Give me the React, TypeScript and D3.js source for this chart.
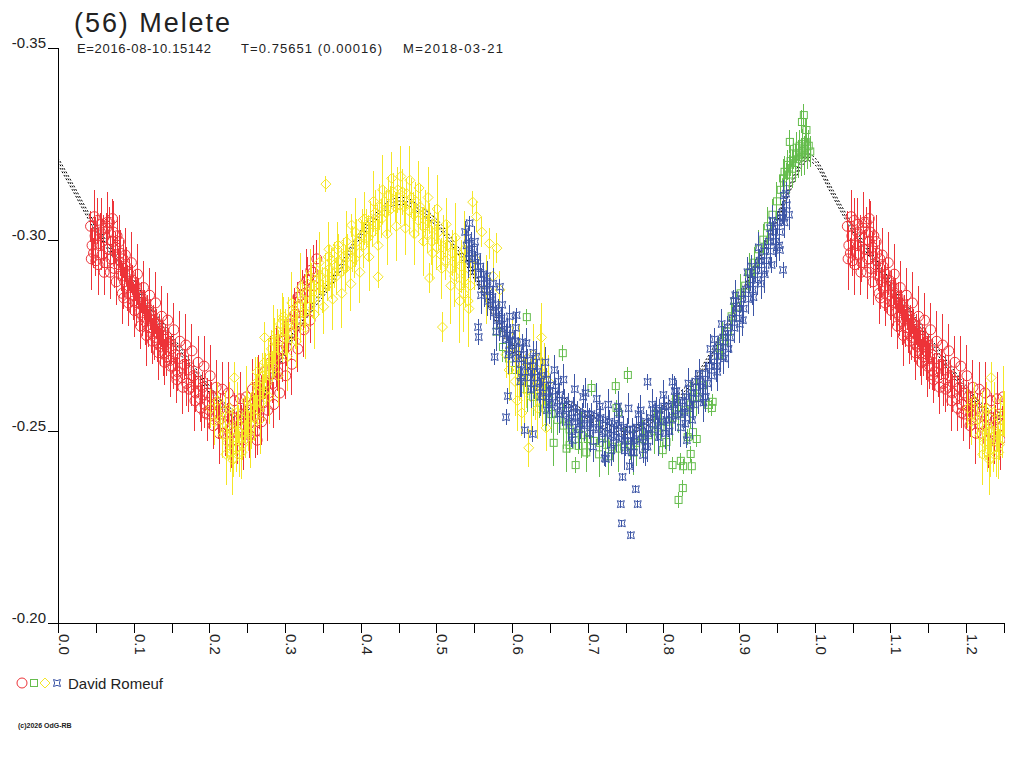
import React from 'react'
import * as d3 from 'd3'

type Obs = [number, number, number] // phase, magnitude, error

// Fitted model (centre line)
const modelCurve: Array<[number, number]> = [
  [0.00, -0.3205], [0.02, -0.3135], [0.04, -0.3063], [0.06, -0.3000], [0.08, -0.2942],
  [0.10, -0.2885], [0.12, -0.2825], [0.14, -0.2770], [0.16, -0.2715], [0.18, -0.2660],
  [0.20, -0.2610], [0.22, -0.2565], [0.24, -0.2540], [0.26, -0.2560], [0.28, -0.2630],
  [0.30, -0.2710], [0.32, -0.2780], [0.34, -0.2835], [0.36, -0.2885], [0.38, -0.2950],
  [0.40, -0.3015], [0.42, -0.3060], [0.44, -0.3095], [0.46, -0.3100], [0.48, -0.3075],
  [0.50, -0.3045], [0.52, -0.2995], [0.54, -0.2940], [0.56, -0.2870], [0.58, -0.2790],
  [0.60, -0.2720], [0.62, -0.2670], [0.64, -0.2620], [0.66, -0.2590], [0.68, -0.2565],
  [0.70, -0.2540], [0.72, -0.2515], [0.74, -0.2500], [0.76, -0.2505], [0.78, -0.2525],
  [0.80, -0.2560], [0.82, -0.2590], [0.84, -0.2630], [0.86, -0.2690], [0.88, -0.2760],
  [0.90, -0.2840], [0.92, -0.2925], [0.94, -0.3010], [0.96, -0.3100], [0.98, -0.3190],
  [0.99, -0.3215], [1.00, -0.3205],
]
const modelSigma = 0.0009

// red circles
const redObs: Obs[] = [
  [0.043,-0.3035,0.004],[0.045,-0.2985,0.005],[0.047,-0.2965,0.004],[0.049,-0.3010,0.005],[0.050,-0.2945,0.004],[0.052,-0.3050,0.006],
  [0.054,-0.2990,0.004],[0.056,-0.3020,0.005],[0.058,-0.2960,0.004],[0.060,-0.3005,0.006],[0.062,-0.2940,0.005],[0.064,-0.3030,0.004],
  [0.066,-0.2975,0.005],[0.068,-0.3045,0.004],[0.070,-0.2950,0.006],[0.072,-0.2995,0.004],[0.074,-0.2925,0.005],[0.076,-0.2980,0.004],
  [0.078,-0.3010,0.005],[0.080,-0.2935,0.004],[0.082,-0.2965,0.006],[0.084,-0.2905,0.004],[0.086,-0.2950,0.005],[0.088,-0.2890,0.004],
  [0.090,-0.2930,0.005],[0.092,-0.2875,0.006],[0.094,-0.2910,0.004],[0.096,-0.2855,0.005],[0.098,-0.2895,0.004],[0.100,-0.2840,0.005],
  [0.102,-0.2880,0.004],[0.104,-0.2835,0.006],[0.106,-0.2860,0.004],[0.108,-0.2810,0.005],[0.110,-0.2850,0.004],[0.112,-0.2800,0.005],
  [0.114,-0.2830,0.004],[0.116,-0.2785,0.006],[0.118,-0.2815,0.004],[0.120,-0.2770,0.005],[0.122,-0.2805,0.004],[0.124,-0.2755,0.005],
  [0.126,-0.2790,0.004],[0.128,-0.2745,0.006],[0.130,-0.2780,0.004],[0.132,-0.2730,0.005],[0.134,-0.2765,0.004],[0.136,-0.2720,0.005],
  [0.138,-0.2750,0.004],[0.140,-0.2705,0.006],[0.142,-0.2740,0.004],[0.144,-0.2695,0.005],[0.146,-0.2730,0.004],[0.148,-0.2685,0.005],
  [0.150,-0.2715,0.004],[0.152,-0.2670,0.006],[0.155,-0.2700,0.004],[0.158,-0.2655,0.005],[0.161,-0.2690,0.004],[0.164,-0.2640,0.005],
  [0.167,-0.2675,0.004],[0.170,-0.2625,0.006],[0.173,-0.2660,0.004],[0.176,-0.2615,0.005],[0.179,-0.2645,0.004],[0.182,-0.2600,0.005],
  [0.185,-0.2630,0.004],[0.188,-0.2585,0.006],[0.191,-0.2615,0.004],[0.194,-0.2570,0.005],[0.197,-0.2600,0.004],[0.200,-0.2555,0.005],
  [0.203,-0.2590,0.004],[0.206,-0.2545,0.006],[0.209,-0.2575,0.004],[0.212,-0.2530,0.005],[0.215,-0.2560,0.004],[0.218,-0.2520,0.005],
  [0.221,-0.2550,0.004],[0.224,-0.2515,0.006],[0.227,-0.2540,0.004],[0.230,-0.2505,0.005],[0.233,-0.2535,0.004],[0.236,-0.2500,0.005],
  [0.239,-0.2530,0.004],[0.242,-0.2510,0.006],[0.245,-0.2545,0.004],[0.248,-0.2515,0.005],[0.251,-0.2555,0.004],[0.254,-0.2525,0.005],
  [0.257,-0.2570,0.004],[0.260,-0.2540,0.006],[0.263,-0.2585,0.004],[0.266,-0.2555,0.005],[0.269,-0.2605,0.004],[0.272,-0.2575,0.005],
  [0.275,-0.2625,0.004],[0.278,-0.2600,0.006],[0.281,-0.2650,0.004],[0.284,-0.2625,0.005],[0.287,-0.2680,0.004],[0.290,-0.2655,0.005],
  [0.293,-0.2710,0.004],[0.296,-0.2690,0.006],[0.299,-0.2745,0.004],[0.302,-0.2720,0.005],[0.305,-0.2780,0.004],[0.308,-0.2755,0.005],
  [0.311,-0.2815,0.004],[0.314,-0.2790,0.006],[0.317,-0.2850,0.004],[0.320,-0.2825,0.005],[0.323,-0.2880,0.004],[0.326,-0.2860,0.005],
  [0.330,-0.2895,0.006],[0.334,-0.2920,0.005],[0.338,-0.2880,0.006],[0.342,-0.2950,0.005],
  [0.072,-0.3055,0.005],[0.087,-0.2848,0.003],[0.156,-0.2647,0.004],[0.194,-0.2548,0.004],[0.263,-0.2477,0.004],
  [0.044,-0.2950,0.008],[0.048,-0.3060,0.007],[0.053,-0.2935,0.008],[0.057,-0.3040,0.007],[0.061,-0.2915,0.006],[0.065,-0.3045,0.008],
  [0.069,-0.2915,0.007],[0.073,-0.3020,0.008],[0.077,-0.2890,0.006],[0.081,-0.2995,0.007],[0.085,-0.2860,0.008],[0.089,-0.2960,0.007],
  [0.093,-0.2835,0.006],[0.097,-0.2940,0.008],[0.101,-0.2815,0.007],[0.105,-0.2910,0.008],[0.109,-0.2775,0.006],[0.113,-0.2875,0.007],
  [0.117,-0.2750,0.008],[0.121,-0.2855,0.007],[0.125,-0.2735,0.006],[0.129,-0.2835,0.008],[0.133,-0.2705,0.007],[0.137,-0.2800,0.008],
  [0.141,-0.2680,0.006],[0.145,-0.2790,0.007],[0.149,-0.2670,0.008],[0.153,-0.2765,0.007],[0.157,-0.2635,0.006],[0.161,-0.2735,0.008],
  [0.165,-0.2615,0.007],[0.169,-0.2725,0.008],[0.173,-0.2610,0.006],[0.177,-0.2710,0.007],[0.181,-0.2580,0.008],[0.185,-0.2680,0.007],
  [0.189,-0.2560,0.006],[0.193,-0.2670,0.008],[0.197,-0.2545,0.007],[0.201,-0.2645,0.008],[0.205,-0.2515,0.006],[0.209,-0.2615,0.007],
  [0.213,-0.2495,0.008],[0.217,-0.2610,0.007],[0.221,-0.2495,0.006],[0.225,-0.2600,0.008],[0.229,-0.2475,0.007],[0.233,-0.2580,0.008],
  [0.237,-0.2475,0.006],[0.241,-0.2585,0.007],[0.245,-0.2478,0.008],[0.249,-0.2590,0.007],[0.253,-0.2490,0.006],[0.257,-0.2610,0.008],
  [0.261,-0.2500,0.007],[0.265,-0.2620,0.008],[0.269,-0.2525,0.006],[0.273,-0.2655,0.007],[0.277,-0.2555,0.008],[0.281,-0.2680,0.007],
  [0.285,-0.2570,0.006],[0.289,-0.2695,0.008],[0.293,-0.2600,0.007],[0.297,-0.2735,0.008],[0.301,-0.2645,0.006],[0.305,-0.2775,0.007],
  [0.309,-0.2675,0.008],[0.313,-0.2805,0.007],[0.317,-0.2715,0.006],[0.321,-0.2855,0.008],[0.325,-0.2765,0.007],[0.329,-0.2895,0.008],
  [0.333,-0.2790,0.006],[0.337,-0.2915,0.007],
]

// green squares
const greenObs: Obs[] = [
  [0.580,-0.2760,0.005],[0.588,-0.2720,0.004],[0.596,-0.2690,0.006],[0.604,-0.2660,0.005],[0.612,-0.2635,0.004],[0.620,-0.2610,0.006],
  [0.628,-0.2590,0.005],[0.636,-0.2575,0.004],[0.644,-0.2560,0.006],[0.652,-0.2545,0.005],[0.660,-0.2530,0.004],[0.668,-0.2515,0.006],
  [0.676,-0.2505,0.005],[0.684,-0.2495,0.004],[0.692,-0.2490,0.006],[0.700,-0.2480,0.005],[0.708,-0.2475,0.004],[0.716,-0.2470,0.006],
  [0.724,-0.2465,0.005],[0.732,-0.2460,0.004],[0.740,-0.2455,0.006],[0.748,-0.2460,0.005],[0.756,-0.2465,0.004],[0.764,-0.2470,0.006],
  [0.772,-0.2480,0.005],[0.780,-0.2490,0.004],[0.788,-0.2500,0.006],[0.796,-0.2510,0.005],[0.804,-0.2525,0.004],[0.812,-0.2535,0.006],
  [0.820,-0.2545,0.005],[0.828,-0.2555,0.004],[0.836,-0.2570,0.006],[0.844,-0.2590,0.005],[0.852,-0.2620,0.004],
  [0.655,-0.2470,0.006],[0.672,-0.2455,0.006],[0.698,-0.2445,0.005],[0.715,-0.2440,0.006],[0.728,-0.2435,0.005],[0.760,-0.2445,0.006],
  [0.872,-0.2700,0.004],[0.878,-0.2735,0.005],[0.884,-0.2760,0.004],[0.890,-0.2800,0.005],[0.896,-0.2825,0.004],[0.902,-0.2860,0.005],
  [0.908,-0.2880,0.004],[0.914,-0.2915,0.005],[0.920,-0.2940,0.004],[0.926,-0.2975,0.005],[0.932,-0.3000,0.004],[0.938,-0.3035,0.005],
  [0.944,-0.3065,0.004],[0.950,-0.3100,0.005],
  [0.955,-0.3130,0.004],[0.958,-0.3160,0.005],[0.960,-0.3177,0.004],[0.962,-0.3150,0.005],[0.964,-0.3195,0.004],[0.966,-0.3170,0.005],
  [0.967,-0.3255,0.003],[0.968,-0.3205,0.004],[0.970,-0.3185,0.005],[0.972,-0.3225,0.004],[0.974,-0.3200,0.005],[0.976,-0.3240,0.004],
  [0.978,-0.3210,0.005],[0.980,-0.3245,0.004],[0.982,-0.3215,0.005],[0.983,-0.3307,0.003],[0.984,-0.3250,0.004],[0.9855,-0.3325,0.003],
  [0.986,-0.3220,0.005],[0.988,-0.3255,0.004],[0.989,-0.3286,0.003],[0.990,-0.3225,0.004],[0.992,-0.3245,0.004],[0.994,-0.3230,0.004],
  [0.753,-0.2647,0.002],[0.737,-0.2618,0.002],[0.705,-0.2613,0.002],[0.676,-0.2464,0.002],[0.688,-0.2462,0.002],[0.684,-0.2412,0.002],
  [0.799,-0.2451,0.002],[0.804,-0.2472,0.002],[0.812,-0.2412,0.002],[0.826,-0.2409,0.002],[0.8375,-0.2409,0.002],[0.823,-0.2423,0.002],
  [0.836,-0.2441,0.002],[0.8256,-0.2352,0.002],[0.820,-0.2321,0.002],[0.839,-0.2498,0.002],[0.844,-0.2480,0.002],[0.832,-0.2485,0.002],
  [0.740,-0.2550,0.002],[0.859,-0.2569,0.002],[0.865,-0.2577,0.002],[0.864,-0.2561,0.002],[0.6195,-0.2798,0.002],[0.667,-0.2704,0.002],
  [0.738,-0.2561,0.002],
]

// yellow diamonds
const yellowObs: Obs[] = [
  [0.202,-0.2560,0.005],[0.207,-0.2525,0.006],[0.211,-0.2580,0.005],
  [0.215,-0.2530,0.005],[0.218,-0.2490,0.006],[0.221,-0.2555,0.005],[0.224,-0.2470,0.004],[0.226,-0.2510,0.006],[0.228,-0.2445,0.005],
  [0.230,-0.2500,0.006],[0.232,-0.2430,0.005],[0.234,-0.2485,0.004],[0.236,-0.2455,0.006],[0.238,-0.2520,0.005],[0.240,-0.2440,0.006],
  [0.242,-0.2495,0.005],[0.244,-0.2465,0.004],[0.246,-0.2530,0.006],[0.248,-0.2480,0.005],[0.250,-0.2545,0.006],[0.252,-0.2500,0.005],
  [0.254,-0.2560,0.004],[0.256,-0.2515,0.006],[0.258,-0.2580,0.005],[0.260,-0.2535,0.006],[0.262,-0.2600,0.005],[0.264,-0.2555,0.004],
  [0.266,-0.2620,0.006],[0.268,-0.2575,0.005],[0.270,-0.2645,0.006],[0.272,-0.2600,0.005],[0.274,-0.2665,0.004],[0.276,-0.2625,0.006],
  [0.278,-0.2690,0.005],[0.280,-0.2645,0.006],[0.282,-0.2715,0.005],[0.284,-0.2670,0.004],[0.286,-0.2735,0.006],[0.288,-0.2695,0.005],
  [0.290,-0.2760,0.006],[0.292,-0.2715,0.005],[0.294,-0.2780,0.004],[0.296,-0.2740,0.006],[0.298,-0.2800,0.005],[0.300,-0.2760,0.006],
  [0.233,-0.2640,0.004],[0.273,-0.2745,0.004],[0.263,-0.2655,0.004],
  [0.302,-0.2745,0.005],[0.305,-0.2790,0.006],[0.308,-0.2760,0.005],[0.311,-0.2805,0.004],[0.314,-0.2775,0.006],[0.317,-0.2825,0.005],
  [0.320,-0.2790,0.006],[0.323,-0.2845,0.005],[0.326,-0.2810,0.004],[0.329,-0.2860,0.006],[0.332,-0.2825,0.005],[0.335,-0.2880,0.006],
  [0.338,-0.2845,0.005],[0.341,-0.2895,0.004],[0.344,-0.2860,0.006],[0.347,-0.2905,0.005],[0.350,-0.2870,0.006],[0.353,-0.2915,0.005],
  [0.356,-0.2880,0.004],[0.359,-0.2925,0.006],[0.362,-0.2895,0.005],[0.365,-0.2935,0.006],[0.368,-0.2905,0.005],[0.371,-0.2945,0.004],
  [0.374,-0.2915,0.006],[0.377,-0.2955,0.005],[0.380,-0.2925,0.006],[0.383,-0.2965,0.005],[0.386,-0.2935,0.004],[0.389,-0.2975,0.006],
  [0.392,-0.2950,0.005],[0.395,-0.2995,0.006],[0.398,-0.2965,0.005],[0.401,-0.3010,0.004],[0.404,-0.2985,0.006],[0.407,-0.3030,0.005],
  [0.410,-0.3005,0.006],[0.413,-0.3050,0.005],[0.416,-0.3020,0.004],[0.419,-0.3070,0.006],[0.422,-0.3040,0.005],[0.425,-0.3085,0.006],
  [0.428,-0.3055,0.005],[0.431,-0.3100,0.004],[0.434,-0.3070,0.006],[0.437,-0.3115,0.005],[0.440,-0.3080,0.006],[0.443,-0.3125,0.005],
  [0.446,-0.3085,0.004],[0.449,-0.3130,0.006],[0.452,-0.3090,0.005],[0.455,-0.3125,0.006],[0.458,-0.3085,0.005],[0.461,-0.3120,0.004],
  [0.464,-0.3075,0.006],[0.467,-0.3110,0.005],[0.470,-0.3065,0.006],[0.473,-0.3100,0.005],[0.476,-0.3050,0.004],[0.479,-0.3085,0.006],
  [0.482,-0.3035,0.005],[0.485,-0.3070,0.006],[0.488,-0.3015,0.005],[0.491,-0.3055,0.004],[0.494,-0.2995,0.006],[0.497,-0.3040,0.005],
  [0.500,-0.2980,0.006],[0.503,-0.3020,0.005],[0.506,-0.2960,0.004],[0.509,-0.3005,0.006],[0.512,-0.2945,0.005],[0.515,-0.2985,0.006],
  [0.518,-0.2925,0.007],[0.521,-0.2965,0.006],[0.524,-0.2905,0.008],[0.527,-0.2950,0.006],[0.530,-0.2880,0.009],[0.533,-0.2930,0.007],
  [0.536,-0.2860,0.010],[0.539,-0.2905,0.008],[0.542,-0.2840,0.009],[0.545,-0.2880,0.007],
  [0.222,-0.2440,0.008],[0.227,-0.2560,0.007],[0.231,-0.2425,0.009],[0.237,-0.2550,0.008],[0.243,-0.2445,0.007],[0.249,-0.2580,0.009],
  [0.255,-0.2485,0.008],[0.261,-0.2625,0.007],[0.267,-0.2530,0.009],[0.273,-0.2680,0.008],[0.279,-0.2590,0.007],[0.285,-0.2740,0.009],
  [0.291,-0.2645,0.008],[0.297,-0.2790,0.007],[0.303,-0.2695,0.009],[0.309,-0.2835,0.008],[0.315,-0.2735,0.007],[0.321,-0.2875,0.009],
  [0.327,-0.2770,0.008],[0.333,-0.2905,0.007],[0.339,-0.2805,0.009],[0.345,-0.2940,0.008],[0.351,-0.2825,0.007],[0.357,-0.2955,0.009],
  [0.363,-0.2845,0.008],[0.369,-0.2975,0.007],[0.375,-0.2860,0.009],[0.381,-0.2995,0.008],[0.387,-0.2885,0.007],[0.393,-0.3020,0.009],
  [0.399,-0.2915,0.008],[0.405,-0.3055,0.007],[0.411,-0.2955,0.009],[0.417,-0.3100,0.008],[0.423,-0.2985,0.007],[0.429,-0.3130,0.009],
  [0.435,-0.3015,0.008],[0.441,-0.3160,0.007],[0.447,-0.3035,0.009],[0.453,-0.3165,0.008],[0.459,-0.3030,0.007],[0.465,-0.3155,0.009],
  [0.471,-0.3015,0.008],[0.477,-0.3135,0.007],[0.483,-0.2995,0.009],[0.489,-0.3110,0.008],[0.495,-0.2965,0.007],[0.501,-0.3080,0.009],
  [0.507,-0.2925,0.008],[0.513,-0.3040,0.007],[0.519,-0.2880,0.010],[0.525,-0.3005,0.009],[0.531,-0.2840,0.011],[0.537,-0.2975,0.010],
  [0.543,-0.2820,0.010],[0.551,-0.2950,0.008],[0.566,-0.2870,0.009],[0.575,-0.2905,0.007],
  [0.354,-0.3145,0.002],[0.358,-0.2975,0.003],[0.388,-0.3038,0.003],[0.403,-0.3051,0.003],[0.370,-0.2986,0.003],[0.362,-0.2947,0.003],
  [0.423,-0.2903,0.003],[0.508,-0.2772,0.004],[0.491,-0.2900,0.004],[0.548,-0.3098,0.003],[0.560,-0.3020,0.004],[0.580,-0.2978,0.004],
  [0.584,-0.2869,0.005],[0.553,-0.3060,0.004],[0.570,-0.2990,0.004],
  [0.592,-0.2700,0.006],[0.596,-0.2660,0.008],[0.600,-0.2720,0.007],[0.604,-0.2630,0.009],[0.607,-0.2580,0.008],[0.610,-0.2680,0.010],
  [0.613,-0.2548,0.006],[0.616,-0.2610,0.009],[0.619,-0.2640,0.008],[0.622,-0.2457,0.005],[0.625,-0.2590,0.010],[0.628,-0.2700,0.008],
  [0.631,-0.2620,0.009],[0.634,-0.2560,0.008],[0.637,-0.2680,0.010],[0.639,-0.2745,0.009],[0.640,-0.2605,0.009],[0.643,-0.2650,0.008],
  [0.645,-0.2509,0.006],[0.648,-0.2630,0.007],
]

// blue stars
const blueObs: Obs[] = [
  [0.538,-0.3020,0.003],[0.540,-0.2985,0.004],[0.542,-0.3005,0.003],[0.544,-0.2965,0.004],
  [0.546,-0.2990,0.003],[0.548,-0.2950,0.004],[0.550,-0.2975,0.003],[0.552,-0.2930,0.004],
  [0.554,-0.2955,0.003],[0.556,-0.2910,0.004],[0.558,-0.2930,0.003],[0.560,-0.2885,0.004],
  [0.562,-0.2910,0.003],[0.564,-0.2865,0.004],[0.566,-0.2885,0.003],[0.568,-0.2840,0.004],
  [0.570,-0.2870,0.003],[0.572,-0.2830,0.004],[0.574,-0.2850,0.003],[0.576,-0.2810,0.004],
  [0.578,-0.2830,0.003],[0.580,-0.2790,0.004],[0.582,-0.2815,0.003],[0.584,-0.2775,0.004],
  [0.586,-0.2795,0.003],[0.588,-0.2755,0.004],[0.590,-0.2780,0.003],[0.592,-0.2740,0.004],
  [0.594,-0.2765,0.003],[0.596,-0.2725,0.004],[0.598,-0.2750,0.003],[0.600,-0.2710,0.004],
  [0.603,-0.2735,0.003],[0.606,-0.2690,0.004],[0.609,-0.2715,0.003],[0.612,-0.2675,0.004],
  [0.615,-0.2700,0.003],[0.618,-0.2655,0.004],[0.621,-0.2685,0.003],[0.624,-0.2640,0.004],
  [0.627,-0.2670,0.003],[0.630,-0.2625,0.004],[0.633,-0.2655,0.003],[0.636,-0.2615,0.004],
  [0.639,-0.2645,0.003],[0.642,-0.2600,0.004],[0.645,-0.2635,0.003],[0.648,-0.2590,0.004],
  [0.651,-0.2620,0.003],[0.654,-0.2575,0.004],[0.657,-0.2605,0.003],[0.660,-0.2565,0.004],
  [0.663,-0.2595,0.003],[0.666,-0.2555,0.004],[0.669,-0.2580,0.003],[0.672,-0.2545,0.004],
  [0.675,-0.2570,0.003],[0.678,-0.2535,0.004],[0.681,-0.2560,0.003],[0.684,-0.2525,0.004],
  [0.687,-0.2550,0.003],[0.690,-0.2520,0.004],[0.693,-0.2545,0.003],[0.696,-0.2515,0.004],
  [0.699,-0.2545,0.003],[0.702,-0.2520,0.004],[0.705,-0.2545,0.003],[0.708,-0.2510,0.004],
  [0.711,-0.2540,0.003],[0.714,-0.2505,0.004],[0.717,-0.2535,0.003],[0.720,-0.2500,0.004],
  [0.723,-0.2530,0.003],[0.726,-0.2495,0.004],[0.729,-0.2525,0.003],[0.732,-0.2490,0.004],
  [0.735,-0.2520,0.003],[0.738,-0.2485,0.004],[0.741,-0.2515,0.003],[0.744,-0.2480,0.004],
  [0.747,-0.2510,0.003],[0.750,-0.2475,0.004],[0.753,-0.2505,0.003],[0.756,-0.2475,0.004],
  [0.759,-0.2505,0.003],[0.762,-0.2475,0.004],[0.765,-0.2510,0.003],[0.768,-0.2480,0.004],
  [0.771,-0.2515,0.003],[0.774,-0.2485,0.004],[0.777,-0.2525,0.003],[0.780,-0.2495,0.004],
  [0.783,-0.2535,0.003],[0.786,-0.2505,0.004],[0.789,-0.2545,0.003],[0.792,-0.2515,0.004],
  [0.795,-0.2555,0.003],[0.798,-0.2525,0.004],[0.801,-0.2565,0.003],[0.804,-0.2530,0.004],
  [0.807,-0.2565,0.003],[0.810,-0.2530,0.004],[0.813,-0.2570,0.003],[0.816,-0.2540,0.004],
  [0.819,-0.2575,0.003],[0.822,-0.2545,0.004],[0.825,-0.2580,0.003],[0.828,-0.2550,0.004],
  [0.831,-0.2590,0.003],[0.834,-0.2560,0.004],[0.837,-0.2600,0.003],[0.840,-0.2570,0.004],
  [0.843,-0.2615,0.003],[0.846,-0.2585,0.004],[0.849,-0.2630,0.003],[0.852,-0.2605,0.004],
  [0.855,-0.2650,0.003],[0.858,-0.2625,0.004],[0.861,-0.2670,0.003],[0.864,-0.2645,0.004],
  [0.867,-0.2695,0.003],[0.870,-0.2670,0.004],[0.873,-0.2720,0.003],[0.876,-0.2695,0.004],
  [0.879,-0.2745,0.003],[0.882,-0.2720,0.004],[0.885,-0.2770,0.003],[0.888,-0.2745,0.004],
  [0.891,-0.2795,0.003],[0.894,-0.2770,0.004],[0.897,-0.2820,0.003],[0.900,-0.2795,0.004],
  [0.903,-0.2845,0.003],[0.906,-0.2820,0.004],[0.909,-0.2870,0.003],[0.912,-0.2845,0.004],
  [0.915,-0.2895,0.003],[0.918,-0.2870,0.004],[0.921,-0.2920,0.003],[0.924,-0.2895,0.004],
  [0.927,-0.2945,0.003],[0.930,-0.2920,0.004],[0.933,-0.2970,0.003],[0.936,-0.2945,0.004],
  [0.939,-0.2995,0.003],[0.942,-0.2970,0.004],[0.945,-0.3020,0.003],[0.948,-0.2995,0.004],
  [0.951,-0.3045,0.003],[0.954,-0.3020,0.004],[0.957,-0.3070,0.003],[0.960,-0.3045,0.004],
  [0.963,-0.3090,0.003],[0.966,-0.3065,0.004],
  [0.575,-0.2885,0.004],[0.597,-0.2800,0.003],[0.611,-0.2630,0.004],[0.628,-0.2705,0.003],[0.646,-0.2555,0.004],[0.661,-0.2630,0.003],
  [0.679,-0.2500,0.004],[0.694,-0.2590,0.003],[0.707,-0.2460,0.004],[0.716,-0.2565,0.003],[0.731,-0.2450,0.004],[0.742,-0.2545,0.003],
  [0.758,-0.2445,0.004],[0.767,-0.2545,0.003],[0.779,-0.2460,0.004],[0.791,-0.2560,0.003],[0.803,-0.2495,0.004],[0.817,-0.2605,0.003],
  [0.829,-0.2520,0.004],[0.842,-0.2630,0.003],[0.856,-0.2590,0.004],[0.868,-0.2740,0.003],[0.880,-0.2690,0.004],[0.893,-0.2840,0.003],
  [0.905,-0.2790,0.004],[0.917,-0.2930,0.003],[0.929,-0.2885,0.004],[0.941,-0.3030,0.003],[0.953,-0.2985,0.004],[0.962,-0.3120,0.003],
  [0.543,-0.2950,0.005],[0.551,-0.2995,0.004],[0.559,-0.2855,0.005],[0.567,-0.2905,0.004],[0.579,-0.2760,0.005],[0.587,-0.2830,0.004],
  [0.595,-0.2700,0.005],[0.605,-0.2770,0.004],[0.613,-0.2640,0.005],[0.619,-0.2730,0.004],[0.625,-0.2610,0.005],[0.632,-0.2695,0.004],
  [0.638,-0.2590,0.005],[0.644,-0.2680,0.004],[0.650,-0.2570,0.005],[0.656,-0.2660,0.004],[0.662,-0.2545,0.005],[0.668,-0.2635,0.004],
  [0.674,-0.2525,0.005],[0.683,-0.2610,0.004],[0.689,-0.2505,0.005],[0.697,-0.2600,0.004],[0.703,-0.2495,0.005],[0.712,-0.2585,0.004],
  [0.719,-0.2480,0.005],[0.727,-0.2570,0.004],[0.734,-0.2470,0.005],[0.740,-0.2565,0.004],[0.749,-0.2450,0.005],[0.754,-0.2560,0.004],
  [0.761,-0.2445,0.005],[0.770,-0.2555,0.004],[0.776,-0.2460,0.005],[0.785,-0.2570,0.004],[0.794,-0.2485,0.005],[0.800,-0.2595,0.004],
  [0.808,-0.2500,0.005],[0.815,-0.2605,0.004],[0.823,-0.2510,0.005],[0.833,-0.2625,0.004],[0.838,-0.2530,0.005],[0.848,-0.2650,0.004],
  [0.853,-0.2575,0.005],[0.862,-0.2715,0.004],[0.871,-0.2655,0.005],[0.877,-0.2780,0.004],[0.886,-0.2715,0.005],[0.895,-0.2855,0.004],
  [0.901,-0.2780,0.005],[0.911,-0.2915,0.004],[0.919,-0.2850,0.005],[0.926,-0.2980,0.004],[0.934,-0.2910,0.005],[0.944,-0.3050,0.004],
  [0.950,-0.2980,0.005],[0.959,-0.3115,0.004],
  [0.779,-0.2629,0.002],[0.812,-0.2629,0.002],[0.7226,-0.2430,0.002],[0.746,-0.2381,0.001],[0.7635,-0.2349,0.001],[0.7437,-0.2310,0.001],
  [0.766,-0.2310,0.001],[0.745,-0.2260,0.001],[0.757,-0.2229,0.001],[0.7556,-0.2409,0.002],[0.773,-0.2438,0.002],[0.680,-0.2477,0.002],
  [0.831,-0.2477,0.002],[0.555,-0.2772,0.002],[0.556,-0.2746,0.002],[0.577,-0.2694,0.002],[0.5945,-0.2592,0.002],[0.592,-0.2537,0.002],
  [0.617,-0.2503,0.002],[0.6275,-0.2493,0.002],[0.584,-0.2877,0.002],[0.606,-0.2803,0.002],[0.614,-0.2733,0.002],[0.724,-0.2428,0.002],
  [0.958,-0.3057,0.002],[0.954,-0.2973,0.002],[0.943,-0.2934,0.002],[0.958,-0.2921,0.002],[0.544,-0.3043,0.002],
]

const xTicks = [0, 0.05, 0.1, 0.15, 0.2, 0.25, 0.3, 0.35, 0.4, 0.45, 0.5, 0.55, 0.6, 0.65, 0.7, 0.75, 0.8, 0.85, 0.9, 0.95, 1.0, 1.05, 1.1, 1.15, 1.2, 1.25]
const xLabels = ['0.0', '0.1', '0.2', '0.3', '0.4', '0.5', '0.6', '0.7', '0.8', '0.9', '1.0', '1.1', '1.2']
const yTicks = [-0.35, -0.30, -0.25, -0.20]

const RED = '#ED3338'
const GREEN = '#66BD4E'
const YELLOW = '#F5E626'
const BLUE = '#3C55A6'
const FONT = '"Liberation Sans", Arial, sans-serif'

const x = d3.scaleLinear().domain([0, 1.25]).range([58, 1004])
const y = d3.scaleLinear().domain([-0.35, -0.20]).range([48, 623])

// phases 0..0.25 are repeated after 1.0
const wrap = (obs: Obs[]): Obs[] =>
  obs.flatMap((d) => (d[0] + 1 <= 1.25 ? [d, [d[0] + 1, d[1], d[2]] as Obs] : [d]))

const starPath = 'M-3.5,-3.5Q0,-1.2 3.5,-3.5Q1.2,0 3.5,3.5Q0,1.2 -3.5,3.5Q-1.2,0 -3.5,-3.5Z'

function Marker({ kind, color }: { kind: string; color: string }) {
  if (kind === 'circle') return <circle r={5} fill="none" stroke={color} strokeWidth={1} />
  if (kind === 'square') return <rect x={-3.5} y={-3.5} width={7} height={7} fill="none" stroke={color} strokeWidth={1} />
  if (kind === 'diamond') return <path d="M0,-5L5,0L0,5L-5,0Z" fill="none" stroke={color} strokeWidth={1} />
  return <path d={starPath} fill="none" stroke={color} strokeWidth={1} />
}

function Series({ obs, kind, color }: { obs: Obs[]; kind: string; color: string }) {
  const pts = wrap(obs)
  return (
    <g>
      {pts.map((d, i) => (
        <line key={'e' + i} x1={x(d[0])} x2={x(d[0])} y1={y(d[1] - d[2])} y2={y(d[1] + d[2])}
          stroke={color} strokeWidth={1} shapeRendering="crispEdges" />
      ))}
      {pts.map((d, i) => (
        <g key={'m' + i} transform={`translate(${x(d[0])},${y(d[1])})`}>
          <Marker kind={kind} color={color} />
        </g>
      ))}
    </g>
  )
}

export default function App() {
  const curvePts: Array<[number, number]> = [
    ...modelCurve,
    ...modelCurve.filter((d) => d[0] > 0 && d[0] <= 0.3).map((d) => [d[0] + 1, d[1]] as [number, number]),
  ]
  const line = (off: number) =>
    d3.line<[number, number]>()
      .x((d) => x(d[0]))
      .y((d) => y(d[1] + off))
      .curve(d3.curveCatmullRom)(curvePts) || ''

  return (
    <svg width={1024} height={768} style={{ position: 'absolute', left: 0, top: 0, background: '#fff' }}
      fontFamily={FONT}>
      <defs>
        <clipPath id="plot">
          <rect x={58} y={40} width={947} height={583} />
        </clipPath>
      </defs>

      {/* title */}
      <text x={74} y={32} fontSize={27} fill="#222" textLength={156} lengthAdjust="spacing">(56) Melete</text>
      <text x={77} y={53} fontSize={13} fill="#222" textLength={134} lengthAdjust="spacing">E=2016-08-10.15142</text>
      <text x={241} y={53} fontSize={13} fill="#222" textLength={141} lengthAdjust="spacing">T=0.75651 (0.00016)</text>
      <text x={403} y={53} fontSize={13} fill="#222" textLength={100} lengthAdjust="spacing">M=2018-03-21</text>

      {/* axes */}
      <g shapeRendering="crispEdges" stroke="#000" strokeWidth={1}>
        <line x1={58.5} x2={58.5} y1={y(-0.35)} y2={y(-0.20)} />
        <line x1={48} x2={1005} y1={y(-0.20) + 0.5} y2={y(-0.20) + 0.5} />
        {yTicks.map((t) => (
          <line key={t} x1={48} x2={58} y1={y(t) + 0.5} y2={y(t) + 0.5} />
        ))}
        {xTicks.map((t) => (
          <line key={t} x1={Math.round(x(t)) + 0.5} x2={Math.round(x(t)) + 0.5} y1={y(-0.20)} y2={y(-0.20) + 10} />
        ))}
      </g>
      {yTicks.map((t) => (
        <text key={t} x={46} y={y(t)} fontSize={15} fill="#222" textAnchor="end">{t.toFixed(2)}</text>
      ))}
      {xLabels.map((s, i) => (
        <text key={s} fontSize={15} fill="#222" transform={`translate(${x(i * 0.1) + 1},${y(-0.20) + 11}) rotate(90)`}>{s}</text>
      ))}

      {/* data, model underneath */}
      <g clipPath="url(#plot)">
        <g fill="none" stroke="#000" strokeWidth={1} strokeDasharray="2,2">
          <path d={line(0)} />
          <path d={line(-modelSigma)} />
          <path d={line(modelSigma)} />
        </g>
        <Series obs={redObs} kind="circle" color={RED} />
        <Series obs={greenObs} kind="square" color={GREEN} />
        <Series obs={yellowObs} kind="diamond" color={YELLOW} />
        <Series obs={blueObs} kind="star" color={BLUE} />
      </g>

      {/* legend */}
      <g transform="translate(22,683)"><Marker kind="circle" color={RED} /></g>
      <g transform="translate(34,683)"><Marker kind="square" color={GREEN} /></g>
      <g transform="translate(45,683)"><Marker kind="diamond" color={YELLOW} /></g>
      <g transform="translate(57,683)"><Marker kind="star" color={BLUE} /></g>
      <text x={68} y={689} fontSize={15} fill="#222">David Romeuf</text>

      <text x={18} y={728} fontSize={7} fill="#222" fontWeight="bold">(c)2026 OdG-RB</text>
    </svg>
  )
}
